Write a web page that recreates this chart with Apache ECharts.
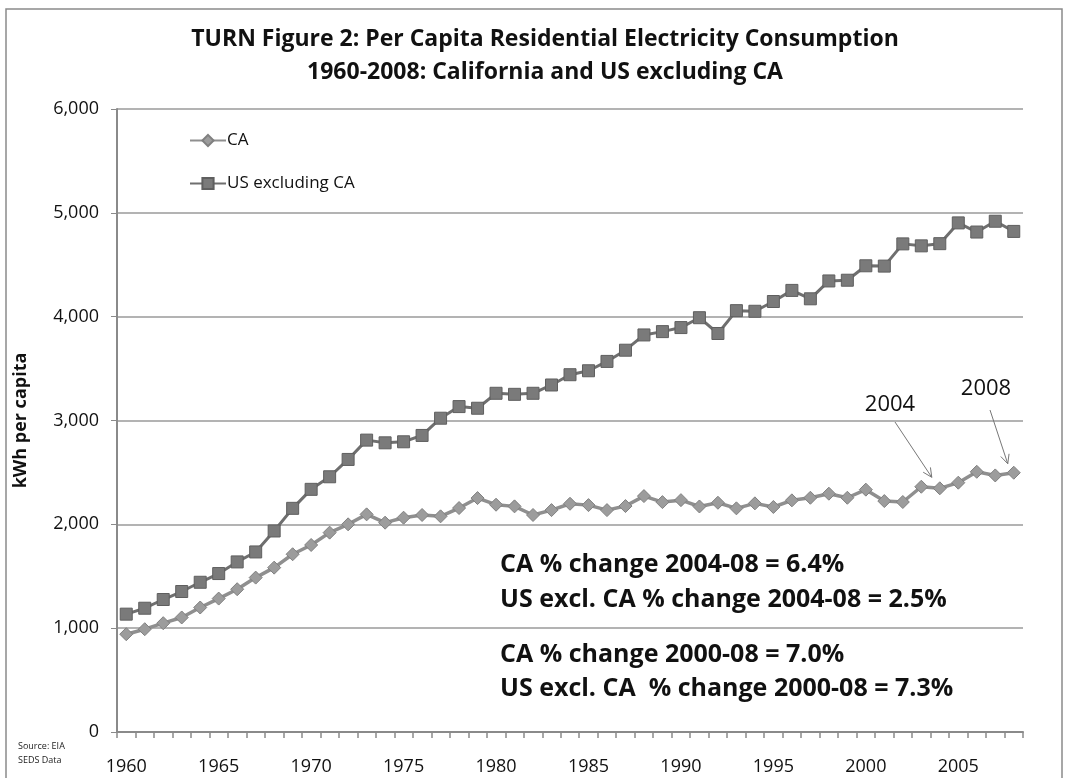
<!DOCTYPE html>
<html>
<head>
<meta charset="utf-8">
<script src="https://cdn.jsdelivr.net/npm/echarts@6/dist/echarts.min.js"></script>
<style>
html,body{margin:0;padding:0;background:#fff;}
#c{width:1068px;height:778px;}
</style>
</head>
<body>
<div id="c"></div>
<script>
const years = [];
for (let y = 1960; y <= 2008; y++) years.push(String(y));

const caValues = [942,990,1048,1103,1199,1285,1375,1487,1583,1712,
  1801,1920,2000,2096,2016,2064,2090,2077,2157,2253,
  2189,2173,2090,2137,2198,2185,2137,2176,2272,2214,
  2233,2172,2208,2154,2202,2167,2231,2256,2295,2256,
  2334,2224,2215,2362,2347,2401,2506,2471,2497];

const usValues = [1135,1192,1276,1353,1442,1526,1638,1734,1936,2154,
  2337,2458,2625,2811,2785,2795,2856,3022,3134,3118,
  3262,3252,3262,3342,3441,3479,3569,3677,3824,3856,
  3895,3990,3838,4058,4052,4146,4253,4172,4344,4351,
  4490,4487,4701,4682,4703,4903,4815,4919,4821];

const seriesNames = ['CA', 'US excluding CA'];
const titleLines = ['TURN Figure 2: Per Capita Residential Electricity Consumption', '1960-2008: California and US excluding CA'];
const notes = ['CA % change 2004-08 = 6.4%', 'US excl. CA % change 2004-08 = 2.5%', 'CA % change 2000-08 = 7.0%', 'US excl. CA  % change 2000-08 = 7.3%'];
const arrowYears = ['2004', '2008'];

const FONT = '"Open Sans", "Noto Sans", sans-serif';
const chart = echarts.init(document.getElementById('c'), null, {renderer: 'canvas'});

const option = {
  backgroundColor: '#fff',
  animation: false,
  textStyle: {fontFamily: FONT},
  grid: {left: 117, right: 45, top: 109, bottom: 46, containLabel: false},
  legend: {
    orient: 'vertical', left: 184, top: 127, itemGap: 26,
    itemWidth: 36, itemHeight: 14,
    textStyle: {fontFamily: FONT, fontSize: 17, color: '#111', padding: [0,0,0,-4]},
    data: seriesNames
  },
  xAxis: {
    type: 'category', data: years, boundaryGap: true,
    axisLine: {lineStyle: {color: '#8a8a8a', width: 2}},
    axisTick: {show: true, interval: 0, length: 6, inside: false, lineStyle: {color: '#8a8a8a', width: 1.5}},
    axisLabel: {interval: 4, fontFamily: FONT, fontSize: 18, color: '#111', margin: 26},
    splitLine: {show: false}
  },
  yAxis: {
    type: 'value', min: 0, max: 6000, interval: 1000,
    name: 'kWh per capita', nameLocation: 'middle', nameGap: 87, nameRotate: 90,
    nameTextStyle: {fontFamily: FONT, fontSize: 18, fontWeight: 'bold', color: '#111'},
    axisLine: {show: true, lineStyle: {color: '#8a8a8a', width: 2}},
    axisTick: {show: true, length: 6, lineStyle: {color: '#8a8a8a'}},
    axisLabel: {fontFamily: FONT, fontSize: 18, color: '#111', margin: 18,
      formatter: v => v.toLocaleString('en-US')},
    splitLine: {lineStyle: {color: '#9a9a9a', width: 1.5}}
  },
  series: [
    {
      name: seriesNames[0], type: 'line', data: caValues,
      symbol: 'diamond', symbolSize: 13, z: 3, showAllSymbol: true,
      lineStyle: {color: '#8f8f8f', width: 3.5},
      itemStyle: {color: '#9c9c9c', borderColor: '#808080', borderWidth: 1}
    },
    {
      name: seriesNames[1], type: 'line', data: usValues,
      symbol: 'rect', symbolSize: 12, z: 2, showAllSymbol: true,
      lineStyle: {color: '#6f6f6f', width: 3},
      itemStyle: {color: '#7a7a7a', borderColor: '#5f5f5f', borderWidth: 1}
    }
  ]
};
chart.setOption(option);

const p04 = chart.convertToPixel({gridIndex: 0}, [arrowYears[0], caValues[years.indexOf(arrowYears[0])]]);
const p08 = chart.convertToPixel({gridIndex: 0}, [arrowYears[1], caValues[years.indexOf(arrowYears[1])]]);

function arrow(x1, y1, x2, y2) {
  const ang = Math.atan2(y2 - y1, x2 - x1);
  const L = 10, W = 0.45;
  return [
    {type: 'line', shape: {x1, y1, x2, y2}, style: {stroke: '#777', lineWidth: 1}, silent: true},
    {type: 'polyline', shape: {points: [
      [x2 - L * Math.cos(ang - W), y2 - L * Math.sin(ang - W)],
      [x2, y2],
      [x2 - L * Math.cos(ang + W), y2 - L * Math.sin(ang + W)]
    ]}, style: {stroke: '#777', lineWidth: 1, fill: null}, silent: true}
  ];
}

const graphics = [
  {type: 'rect', shape: {x: 6, y: 9, width: 1056, height: 790}, style: {fill: null, stroke: '#8a8a8a', lineWidth: 1.5}, silent: true, z: -10},
  {type: 'text', style: {x: 545, y: 28, text: titleLines[0], font: 'bold 23px ' + FONT, fill: '#111', textAlign: 'center'}},
  {type: 'text', style: {x: 545, y: 61, text: titleLines[1], font: 'bold 23px ' + FONT, fill: '#111', textAlign: 'center'}},
  {type: 'text', style: {x: 18, y: 742, text: 'Source: EIA', font: '9px ' + FONT, fill: '#222'}},
  {type: 'text', style: {x: 18, y: 756, text: 'SEDS Data', font: '9px ' + FONT, fill: '#222'}},
  {type: 'text', style: {x: 890, y: 394, text: arrowYears[0], font: '22px ' + FONT, fill: '#111', textAlign: 'center'}},
  {type: 'text', style: {x: 986, y: 378, text: arrowYears[1], font: '22px ' + FONT, fill: '#111', textAlign: 'center'}}
];

const noteY = [552, 587, 642, 676];
notes.forEach((t, i) => {
  graphics.push({type: 'text', style: {x: 500, y: noteY[i], text: t, font: 'bold 25px ' + FONT, fill: '#111'}});
});

graphics.push(...arrow(895, 422, p04[0] - 8, p04[1] - 11));
graphics.push(...arrow(990, 410, p08[0] - 6, p08[1] - 9));

chart.setOption({graphic: graphics});
</script>
</body>
</html>
